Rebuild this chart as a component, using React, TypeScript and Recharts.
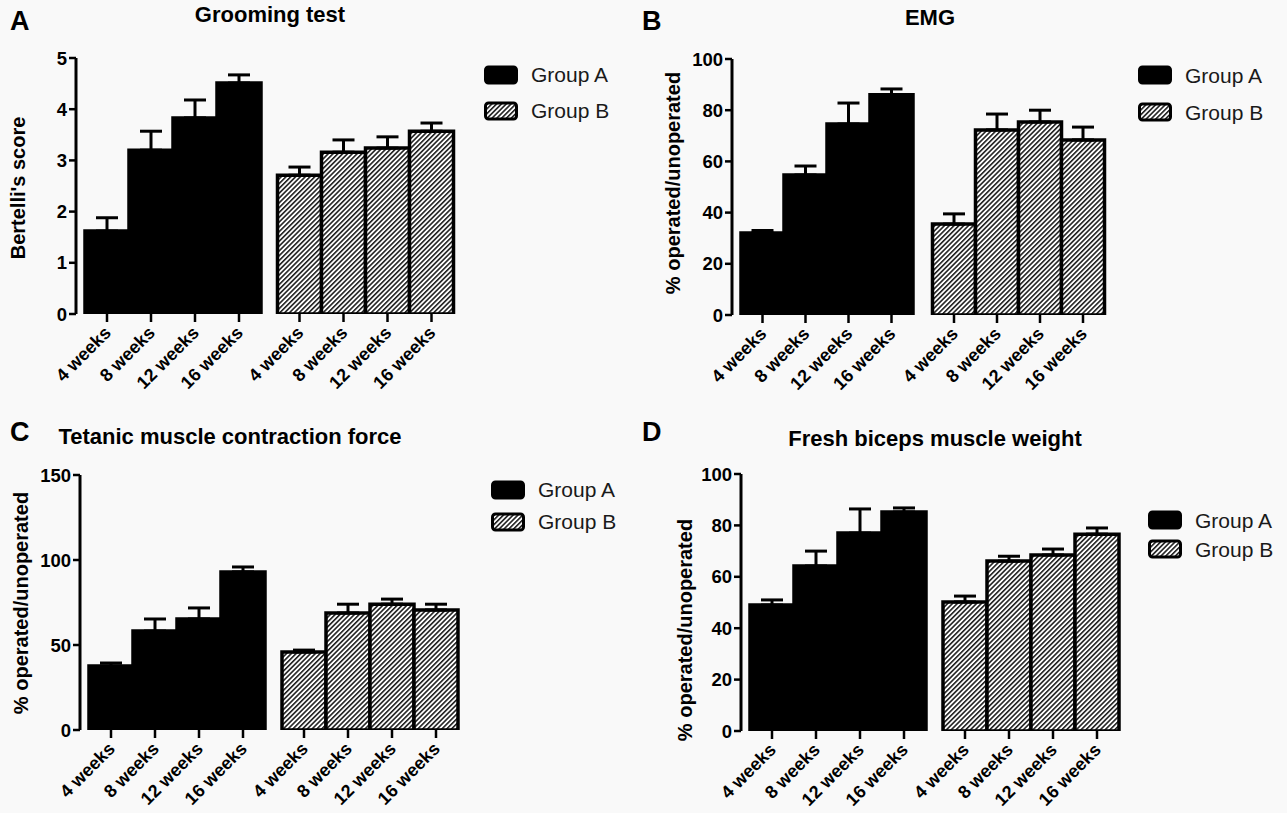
import React from 'react';
import {
  BarChart,
  Bar,
  XAxis,
  YAxis,
  Cell,
  ErrorBar,
  LabelList,
  Legend,
} from 'recharts';

// categories
const weeks = ['4 weeks', '8 weeks', '12 weeks', '16 weeks'];
const groups = ['Group A', 'Group B'];

// Grooming test (Bertelli's score)
const groomA = [1.62, 3.2, 3.83, 4.51];
const groomAErr = [0.26, 0.37, 0.35, 0.16];
const groomB = [2.71, 3.16, 3.24, 3.57];
const groomBErr = [0.16, 0.24, 0.22, 0.16];

// EMG
const emgA = [32, 54.7, 74.6, 86];
const emgAErr = [1, 3.5, 8.2, 2.3];
const emgB = [35.5, 72.3, 75.4, 68.4];
const emgBErr = [4, 6.2, 4.6, 5];

// Tetanic muscle contraction force
const tetA = [37.6, 58.2, 65.3, 93];
const tetAErr = [1.8, 7.1, 6.5, 2.9];
const tetB = [45.9, 68.8, 74, 70.6];
const tetBErr = [1.1, 5.2, 3, 3.4];

// Fresh biceps muscle weight
const bicA = [49, 64.2, 77, 85.2];
const bicAErr = [2, 5.8, 9.4, 1.6];
const bicB = [50.2, 66.1, 68.5, 76.6];
const bicBErr = [2.3, 1.9, 2.3, 2.4];

const FONT = 'Arial, "Liberation Sans", Helvetica, sans-serif';

const buildRows = (a: number[], aErr: number[], b: number[], bErr: number[]) =>
  groups.map((g, gi) => {
    const row: any = { group: g };
    weeks.forEach((_, wi) => {
      row['v' + wi] = gi === 0 ? a[wi] : b[wi];
      row['e' + wi] = [0, gi === 0 ? aErr[wi] : bErr[wi]];
    });
    return row;
  });

// week label + tick mark under each bar
const weekTick = (label: string) => (props: any) => {
  const vb = props.viewBox || props;
  const x = Number(vb.x);
  const w = Number(vb.width);
  const base = Number(vb.y) + Number(vb.height);
  const cx = x + w / 2;
  const px = cx + 5;
  const py = base + 20;
  return (
    <g>
      <line x1={cx} x2={cx} y1={base} y2={base + 8} stroke="#000" strokeWidth={2.5} />
      <text
        x={px}
        y={py}
        transform={`rotate(-45 ${px} ${py})`}
        textAnchor="end"
        fontSize={18}
        fontWeight="bold"
        fontFamily={FONT}
        fill="#000"
      >
        {label}
      </text>
    </g>
  );
};

const legendContent = (gap: number) => () => (
  <div style={{ fontFamily: FONT }}>
    {groups.map((g, gi) => (
      <div key={g} style={{ display: 'flex', alignItems: 'center', height: gap }}>
        <svg width={34} height={21} style={{ marginRight: 13 }}>
          <rect
            x={1.5}
            y={2}
            width={31}
            height={16}
            rx={3}
            fill={gi === 0 ? '#000' : 'url(#hatch)'}
            stroke="#000"
            strokeWidth={3}
          />
        </svg>
        <span style={{ fontSize: 21, color: '#1a1a1a' }}>{g}</span>
      </div>
    ))}
  </div>
);

type PanelProps = {
  left: number;
  top: number;
  width: number;
  height: number;
  letter: string;
  letterPos: [number, number];
  title: string;
  titleX: number;
  titleY: number;
  yLabel: string;
  yLabelPos: [number, number];
  rows: any[];
  max: number;
  ticks: number[];
  margin: { top: number; right: number; bottom: number; left: number };
  legendPos: [number, number];
  legendGap: number;
};

function Panel(p: PanelProps) {
  return (
    <div
      style={{
        position: 'absolute',
        left: p.left,
        top: p.top,
        width: p.width,
        height: p.height,
        background: '#f9f9f9',
      }}
    >
      <div
        style={{
          position: 'absolute',
          left: p.letterPos[0],
          top: p.letterPos[1],
          fontFamily: FONT,
          fontWeight: 'bold',
          fontSize: 27,
        }}
      >
        {p.letter}
      </div>
      <div
        style={{
          position: 'absolute',
          left: p.titleX,
          top: p.titleY,
          transform: 'translateX(-50%)',
          fontFamily: FONT,
          fontWeight: 'bold',
          fontSize: 22,
          whiteSpace: 'nowrap',
        }}
      >
        {p.title}
      </div>
      <div
        style={{
          position: 'absolute',
          left: p.yLabelPos[0],
          top: p.yLabelPos[1],
          transform: 'translate(-50%, -50%) rotate(-90deg)',
          fontFamily: FONT,
          fontWeight: 'bold',
          fontSize: 20,
          whiteSpace: 'nowrap',
        }}
      >
        {p.yLabel}
      </div>
      <BarChart
        width={p.width}
        height={p.height}
        data={p.rows}
        margin={p.margin}
        barCategoryGap={9}
        barGap={0}
        style={{ position: 'absolute', left: 0, top: 0 }}
      >
        <XAxis
          dataKey="group"
          tick={false}
          tickLine={false}
          height={0}
          axisLine={{ stroke: '#000', strokeWidth: 3 }}
        />
        <YAxis
          width={60}
          domain={[0, p.max]}
          ticks={p.ticks}
          interval={0}
          allowDataOverflow
          tickSize={7}
          tickMargin={2}
          axisLine={{ stroke: '#000', strokeWidth: 3 }}
          tickLine={{ stroke: '#000', strokeWidth: 2.5 }}
          tick={{ fill: '#000', fontSize: 18.5, fontWeight: 'bold', fontFamily: FONT }}
        />
        <Legend
          layout="vertical"
          align="center"
          verticalAlign="middle"
          content={legendContent(p.legendGap)}
          wrapperStyle={{ left: p.legendPos[0], top: p.legendPos[1], width: 'auto' }}
        />
        {weeks.map((w, wi) => (
          <Bar
            key={w}
            dataKey={'v' + wi}
            isAnimationActive={false}
            stroke="#000"
            strokeWidth={3.5}
          >
            {p.rows.map((r, gi) => (
              <Cell key={r.group} fill={gi === 0 ? '#000' : 'url(#hatch)'} />
            ))}
            <ErrorBar
              dataKey={'e' + wi}
              direction="y"
              width={11}
              stroke="#000"
              strokeWidth={3}
              isAnimationActive={false}
            />
            <LabelList dataKey={'v' + wi} content={weekTick(w)} />
          </Bar>
        ))}
      </BarChart>
    </div>
  );
}

export default function App() {
  return (
    <div
      style={{
        position: 'absolute',
        left: 0,
        top: 0,
        width: 1287,
        height: 813,
        background: '#fff',
        overflow: 'hidden',
      }}
    >
      <svg width={0} height={0} style={{ position: 'absolute' }}>
        <defs>
          <pattern
            id="hatch"
            patternUnits="userSpaceOnUse"
            width={3.4}
            height={3.4}
            patternTransform="rotate(45)"
          >
            <rect width={3.4} height={3.4} fill="#fff" />
            <line x1={0.8} y1={0} x2={0.8} y2={3.4} stroke="#000" strokeWidth={1.4} />
          </pattern>
        </defs>
      </svg>

      <Panel
        left={0}
        top={0}
        width={640}
        height={410}
        letter="A"
        letterPos={[10, 6]}
        title="Grooming test"
        titleX={270}
        titleY={2}
        yLabel="Bertelli's score"
        yLabelPos={[18, 188]}
        rows={buildRows(groomA, groomAErr, groomB, groomBErr)}
        max={5}
        ticks={[0, 1, 2, 3, 4, 5]}
        margin={{ top: 58, right: 179, bottom: 96, left: 16 }}
        legendPos={[484, 57]}
        legendGap={36}
      />
      <Panel
        left={640}
        top={0}
        width={647}
        height={410}
        letter="B"
        letterPos={[2, 6]}
        title="EMG"
        titleX={290}
        titleY={5}
        yLabel="% operated/unoperated"
        yLabelPos={[33, 183]}
        rows={buildRows(emgA, emgAErr, emgB, emgBErr)}
        max={100}
        ticks={[0, 20, 40, 60, 80, 100]}
        margin={{ top: 59, right: 172, bottom: 95, left: 32 }}
        legendPos={[498, 57]}
        legendGap={37}
      />
      <Panel
        left={0}
        top={410}
        width={640}
        height={403}
        letter="C"
        letterPos={[10, 7]}
        title="Tetanic muscle contraction force"
        titleX={230}
        titleY={14}
        yLabel="% operated/unoperated"
        yLabelPos={[21, 193]}
        rows={buildRows(tetA, tetAErr, tetB, tetBErr)}
        max={150}
        ticks={[0, 50, 100, 150]}
        margin={{ top: 65, right: 174, bottom: 83, left: 20 }}
        legendPos={[491, 64]}
        legendGap={32}
      />
      <Panel
        left={640}
        top={410}
        width={647}
        height={403}
        letter="D"
        letterPos={[2, 7]}
        title="Fresh biceps muscle weight"
        titleX={295}
        titleY={16}
        yLabel="% operated/unoperated"
        yLabelPos={[45, 220]}
        rows={buildRows(bicA, bicAErr, bicB, bicBErr)}
        max={100}
        ticks={[0, 20, 40, 60, 80, 100]}
        margin={{ top: 64, right: 160, bottom: 82, left: 41 }}
        legendPos={[508, 96]}
        legendGap={29}
      />
    </div>
  );
}
